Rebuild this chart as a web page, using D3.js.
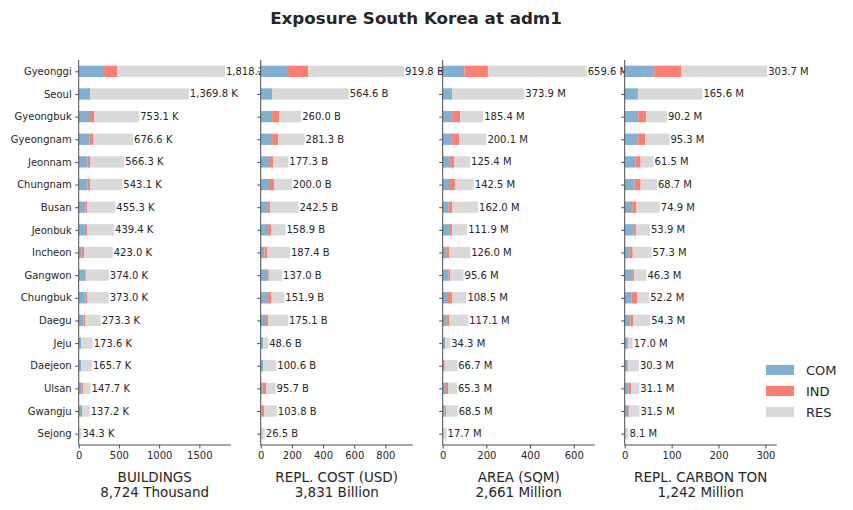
<!DOCTYPE html>
<html>
<head>
<meta charset="utf-8">
<script src="https://cdn.jsdelivr.net/npm/d3@7"></script>
<style>
  body { margin: 0; background: #fff; }
  svg text { font-family: "DejaVu Sans", sans-serif; fill: #262626; }
</style>
</head>
<body>
<svg id="chart" width="853" height="510"></svg>
<script>
/* Stacked exposure bars for the adm1 regions of South Korea, one panel
   per metric. Values are in thousands / billions / millions as labelled. */

const regions = ['Gyeonggi', 'Seoul', 'Gyeongbuk', 'Gyeongnam', 'Jeonnam', 'Chungnam',
    'Busan', 'Jeonbuk', 'Incheon', 'Gangwon', 'Chungbuk', 'Daegu', 'Jeju',
    'Daejeon', 'Ulsan', 'Gwangju', 'Sejong'];
const sectors = ['COM', 'IND', 'RES'];

const buildingsCom = [315, 141, 141, 137, 108, 108, 83, 91, 37, 87, 83, 58, 29, 29, 33, 29, 8];
const buildingsInd = [162, 3, 50, 41, 33, 33, 21, 12, 29, 8, 25, 21, 2, 2, 21, 12, 1];
const buildingsRes = [1341.2, 1225.8, 562.1, 498.6, 425.3, 402.1, 351.3, 336.4, 357.0, 279.0, 265.0, 194.3, 142.6, 134.7, 93.7, 96.2, 25.3];

const costCom = [169, 73, 73, 73, 60, 53, 41, 47, 24, 49, 41, 28, 15, 15, 13, 6, 4];
const costInd = [135, 1, 45, 38, 19, 32, 19, 19, 19, 4, 26, 21, 1, 2, 21, 15, 1];
const costRes = [615.8, 490.6, 142.0, 170.3, 98.3, 115.0, 182.5, 92.9, 144.4, 84.0, 84.9, 126.1, 32.6, 83.6, 61.7, 82.8, 21.5];

const areaCom = [99, 43, 43, 43, 34, 29, 26, 29, 17, 26, 20, 17, 11, 6, 11, 9, 3];
const areaInd = [108, 1, 37, 32, 18, 27, 17, 14, 14, 8, 23, 14, 0.5, 3, 14, 6, 1];
const areaRes = [452.6, 329.9, 105.4, 125.1, 73.4, 86.5, 119.0, 68.9, 95.0, 61.6, 65.5, 86.1, 22.8, 57.7, 40.3, 53.5, 13.7];

const carbonCom = [63, 28, 29, 27, 23, 21, 16, 18, 11, 16, 14, 12, 6, 6, 8, 8, 1.5];
const carbonInd = [58, 1, 17, 17, 11, 13, 9, 6, 6, 4, 13, 6, 2, 2, 6, 2, 0.3];
const carbonRes = [182.7, 136.6, 44.2, 51.3, 27.5, 34.7, 49.9, 29.9, 40.3, 26.3, 25.2, 36.3, 9.0, 22.3, 17.1, 21.5, 6.3];

const panelNames = ['BUILDINGS', 'REPL. COST (USD)', 'AREA (SQM)', 'REPL. CARBON TON'];
const panelTotals = ['8,724 Thousand', '3,831 Billion', '2,661 Million', '1,242 Million'];
const valueUnits = ['K', 'B', 'M', 'M'];
const xMax = [1890, 975, 696, 324];
const xTicks = [[0, 500, 1000, 1500], [0, 200, 400, 600, 800], [0, 200, 400, 600], [0, 100, 200, 300]];

const colors = { COM: '#80b1d3', IND: '#fb8072', RES: '#d9d9d9' };
const AXIS_COLOR = '#4d4d4d';

const panelData = [
    [buildingsCom, buildingsInd, buildingsRes],
    [costCom, costInd, costRes],
    [areaCom, areaInd, areaRes],
    [carbonCom, carbonInd, carbonRes]
];

const TOP = 60, BOTTOM = 445, PANEL_W = 152, PANEL_GAP = 30, FIRST_LEFT = 78.7;

const svg = d3.select('#chart');

svg.append('text')
    .attr('x', 416).attr('y', 24)
    .attr('text-anchor', 'middle')
    .style('font-size', '16.7px').style('font-weight', 'bold')
    .text('Exposure South Korea at adm1');

const y = d3.scalePoint().domain(regions).range([TOP, BOTTOM]).padding(0.5);
const barH = y.step() * 0.5;
const fmt = d3.format(',.1f');

function styleTicks(axis) {
    axis.select('.domain').remove();
    axis.selectAll('line').attr('stroke', AXIS_COLOR);
    axis.selectAll('text')
        .style('font-size', '10px')
        .style('font-family', '"DejaVu Sans", sans-serif')
        .attr('fill', '#262626');
}

function drawPanel(p) {
    let left = FIRST_LEFT + p * (PANEL_W + PANEL_GAP);
    let g = svg.append('g').attr('transform', `translate(${left},0)`);
    let x = d3.scaleLinear().domain([0, xMax[p]]).range([0, PANEL_W]);

    let rows = regions.map((name, i) => {
        let row = { region: name };
        sectors.forEach((s, k) => row[s] = panelData[p][k][i]);
        return row;
    });
    let stacked = d3.stack().keys(sectors)(rows);

    g.selectAll('g.layer')
        .data(stacked)
        .join('g')
        .attr('class', 'layer')
        .attr('fill', d => colors[d.key])
        .selectAll('rect')
        .data(d => d)
        .join('rect')
        .attr('x', d => x(d[0]))
        .attr('y', d => y(d.data.region) - barH / 2)
        .attr('width', d => x(d[1]) - x(d[0]))
        .attr('height', barH);

    // total label at the end of each bar
    g.selectAll('text.total')
        .data(rows)
        .join('text')
        .attr('class', 'total')
        .attr('x', d => x(d.COM + d.IND + d.RES) + 1)
        .attr('y', d => y(d.region))
        .attr('dy', '0.35em')
        .style('font-size', '10px')
        .text(d => fmt(d.COM + d.IND + d.RES) + ' ' + valueUnits[p]);

    let yAxis = g.append('g')
        .call(d3.axisLeft(y).tickSize(3.5).tickPadding(3.5)
            .tickFormat(p === 0 ? (d => d) : () => ''));
    styleTicks(yAxis);

    let xAxis = g.append('g')
        .attr('transform', `translate(0,${BOTTOM})`)
        .call(d3.axisBottom(x).tickValues(xTicks[p]).tickFormat(d3.format('d'))
            .tickSize(3.5).tickPadding(3.5));
    styleTicks(xAxis);

    // left and bottom spines only
    g.append('line').attr('x1', 0).attr('x2', 0).attr('y1', TOP).attr('y2', BOTTOM)
        .attr('stroke', AXIS_COLOR).attr('stroke-width', 1);
    g.append('line').attr('x1', 0).attr('x2', PANEL_W).attr('y1', BOTTOM).attr('y2', BOTTOM)
        .attr('stroke', AXIS_COLOR).attr('stroke-width', 1);

    let title = g.append('text')
        .attr('text-anchor', 'middle')
        .style('font-size', '13.5px');
    title.append('tspan').attr('x', PANEL_W / 2).attr('y', 482).text(panelNames[p]);
    title.append('tspan').attr('x', PANEL_W / 2).attr('y', 497).text(panelTotals[p]);
}

for (let p = 0; p < panelNames.length; p++) {
    drawPanel(p);
}

// legend
let legend = svg.append('g').attr('transform', 'translate(766,370)');
sectors.forEach((s, i) => {
    legend.append('rect')
        .attr('x', 0).attr('y', i * 21 - 5)
        .attr('width', 28).attr('height', 10)
        .attr('fill', colors[s]);
    legend.append('text')
        .attr('x', 40).attr('y', i * 21)
        .attr('dy', '0.35em')
        .style('font-size', '13px')
        .text(s);
});
</script>
</body>
</html>
